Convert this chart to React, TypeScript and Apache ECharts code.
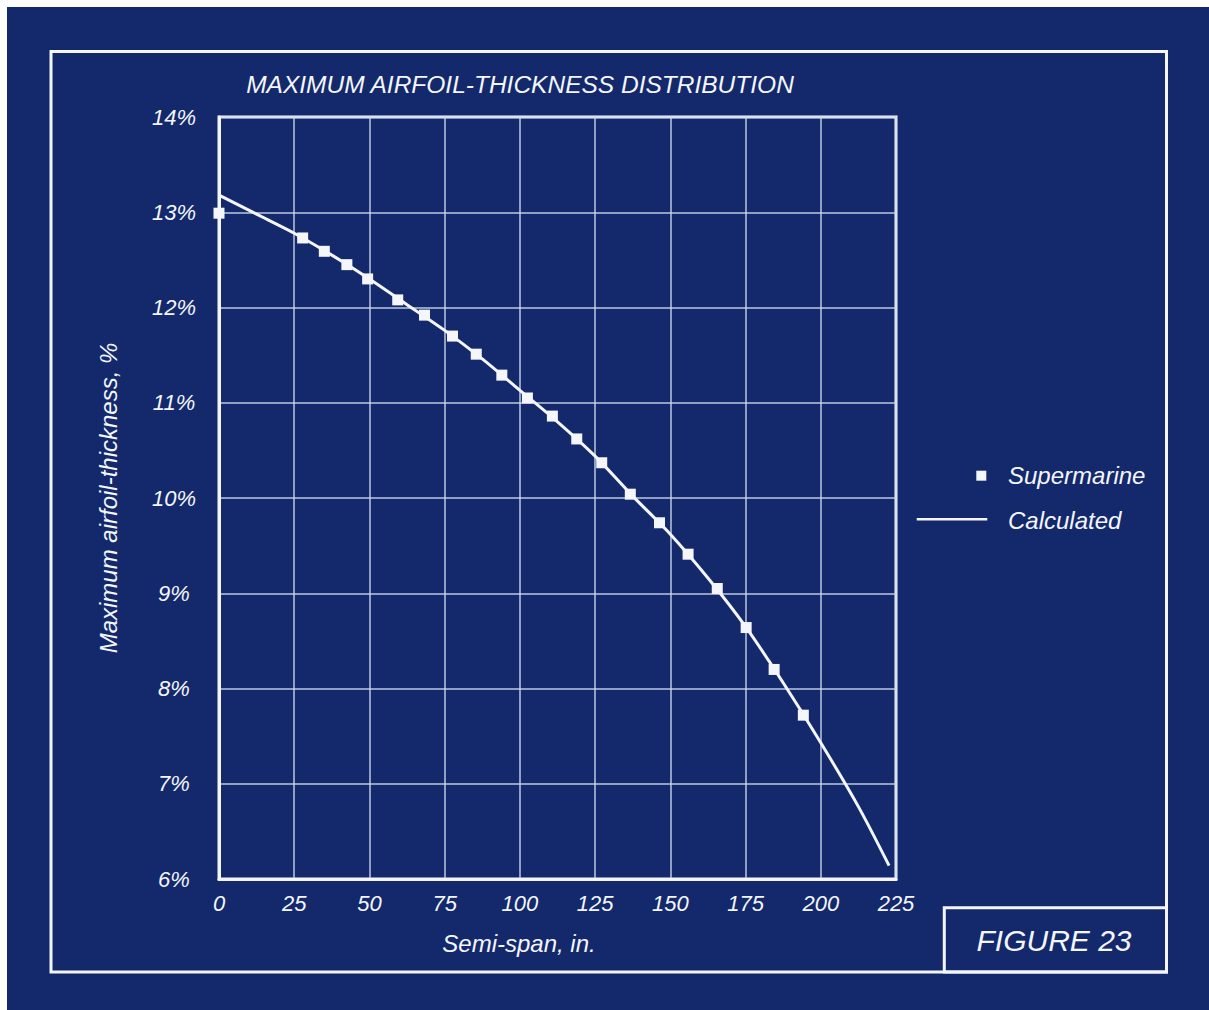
import React, { useEffect, useRef } from 'react';
import * as echarts from 'echarts';

const xTicks = [0, 25, 50, 75, 100, 125, 150, 175, 200, 225];
const yTicks = [6, 7, 8, 9, 10, 11, 12, 13, 14];

// Supermarine measured points (semi-span in., thickness %)
const supermarineX = [0, 27.8, 35.0, 42.5, 49.4, 59.4, 68.3, 77.6, 85.5, 94.0, 102.5, 110.8, 118.9, 127.2, 136.7, 146.4, 155.9, 165.6, 175.2, 184.5, 194.2];
const supermarineY = [12.99, 12.73, 12.59, 12.45, 12.30, 12.08, 11.92, 11.70, 11.51, 11.29, 11.05, 10.86, 10.62, 10.37, 10.04, 9.74, 9.41, 9.05, 8.64, 8.20, 7.72];

// Calculated curve
const calcX = [0, 12.5, 25, 37.5, 50, 62.5, 75, 87.5, 100, 112.5, 125, 137.5, 150, 162.5, 175, 187.5, 200, 212.5, 222.7];
const calcY = [13.18, 12.98, 12.78, 12.55, 12.30, 12.03, 11.76, 11.46, 11.13, 10.80, 10.44, 10.02, 9.62, 9.16, 8.65, 8.06, 7.43, 6.76, 6.14];

const FONT = '"Liberation Sans", Arial, Helvetica, sans-serif';
const BG = '#13296b';
const WHITE = '#f4f6fb';

export default function App() {
  const ref = useRef<HTMLDivElement>(null);
  useEffect(() => {
    const chart = echarts.init(ref.current!, null, { renderer: 'svg' });
    const txt = (text: string, x: number, y: number, size: number, align: string, extra: any = {}) => ({
      type: 'text',
      x,
      y,
      ...extra,
      style: {
        text,
        fill: WHITE,
        font: `italic ${size}px ${FONT}`,
        align,
        verticalAlign: 'middle',
      },
    });
    chart.setOption({
      animation: false,
      backgroundColor: BG,
      grid: {
        left: 212,
        top: 110,
        width: 677,
        height: 762,
        show: true,
        borderColor: WHITE,
        borderWidth: 3,
        containLabel: false,
      },
      xAxis: {
        type: 'value',
        min: xTicks[0],
        max: xTicks[xTicks.length - 1],
        interval: 25,
        axisLine: { show: true, lineStyle: { color: WHITE, width: 3 } },
        axisTick: { show: false },
        splitLine: { show: true, lineStyle: { color: 'rgba(205,216,236,0.9)', width: 1.5 } },
        axisLabel: {
          color: WHITE,
          fontFamily: FONT,
          fontStyle: 'italic',
          fontSize: 22,
          margin: 13,
        },
      },
      yAxis: {
        type: 'value',
        min: yTicks[0],
        max: yTicks[yTicks.length - 1],
        interval: 1,
        axisLine: { show: true, lineStyle: { color: WHITE, width: 3 } },
        axisTick: { show: false },
        splitLine: { show: true, lineStyle: { color: 'rgba(205,216,236,0.9)', width: 1.5 } },
        axisLabel: {
          color: WHITE,
          fontFamily: FONT,
          fontStyle: 'italic',
          fontSize: 22,
          margin: 45,
          align: 'center',
          formatter: '{value}%',
        },
      },
      series: [
        {
          name: 'Calculated',
          type: 'line',
          data: calcX.map((x, i) => [x, calcY[i]]),
          smooth: 0.3,
          symbol: 'none',
          lineStyle: { color: WHITE, width: 3 },
          z: 3,
        },
        {
          name: 'Supermarine',
          type: 'scatter',
          data: supermarineX.map((x, i) => [x, supermarineY[i]]),
          symbol: 'rect',
          symbolSize: 11,
          itemStyle: { color: WHITE, opacity: 1 },
          z: 4,
        },
      ],
      graphic: [
        {
          type: 'rect',
          shape: { x: 44, y: 44.5, width: 1115.5, height: 920.5 },
          style: { fill: 'none', stroke: WHITE, lineWidth: 3 },
        },
        {
          type: 'rect',
          shape: { x: 937.3, y: 900.7, width: 222.2, height: 64.3 },
          style: { fill: 'none', stroke: WHITE, lineWidth: 3 },
        },
        txt('FIGURE 23', 1047, 933, 30, 'center'),
        txt('MAXIMUM AIRFOIL-THICKNESS DISTRIBUTION', 513, 77, 24.5, 'center'),
        txt('Semi-span, in.', 512, 936, 24, 'center'),
        txt('Maximum airfoil-thickness, %', 101, 491, 24, 'center', { rotation: Math.PI / 2 }),
        {
          type: 'rect',
          shape: { x: 969.3, y: 463.7, width: 10, height: 10 },
          style: { fill: WHITE },
        },
        txt('Supermarine', 1001, 468, 24, 'left'),
        {
          type: 'line',
          shape: { x1: 909.7, y1: 512.3, x2: 980.3, y2: 512.3 },
          style: { stroke: WHITE, lineWidth: 2.5 },
        },
        txt('Calculated', 1001, 513, 24, 'left'),
      ],
    });
    return () => chart.dispose();
  }, []);
  return (
    <div
      ref={ref}
      style={{ position: 'fixed', left: 7, top: 7, width: 1202, height: 1003 }}
    />
  );
}
